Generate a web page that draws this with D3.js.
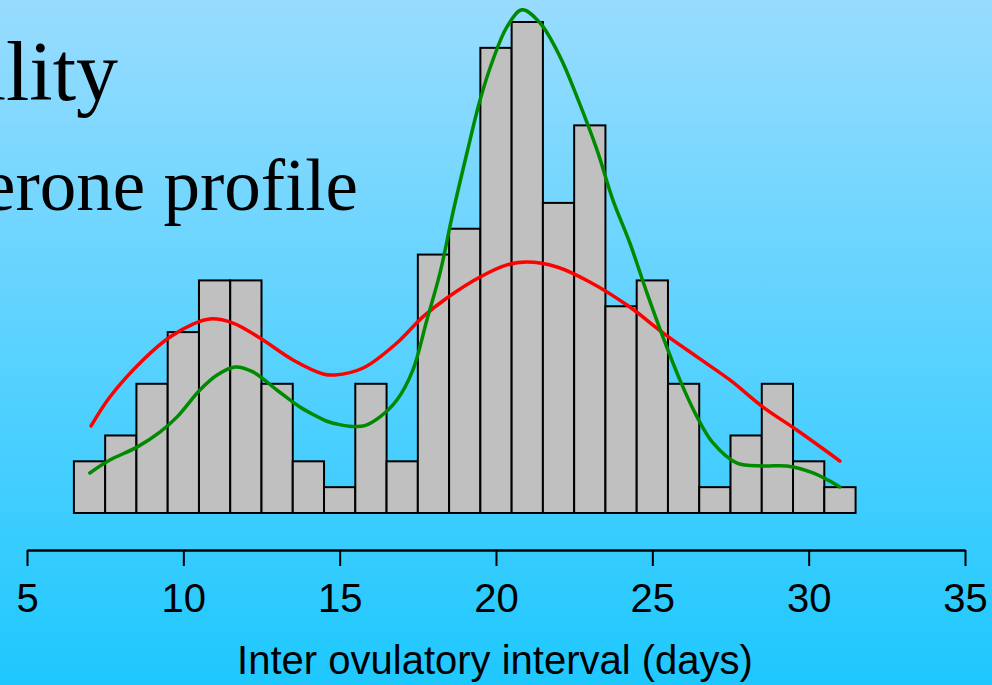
<!DOCTYPE html>
<html>
<head>
<meta charset="utf-8">
<script src="https://cdn.jsdelivr.net/npm/d3@7"></script>
<style>
  html, body { margin: 0; padding: 0; overflow: hidden; }
  svg { display: block; }
</style>
</head>
<body>
<script>
// Histogram of inter-ovulatory intervals (days) with two smoothed density curves
const days   = [7, 8, 9, 10, 11, 12, 13, 14, 15, 16, 17, 18, 19, 20, 21, 22, 23, 24, 25, 26, 27, 28, 29, 30, 31];
const counts = [2, 3, 5, 7, 9, 9, 5, 2, 1, 5, 2, 10, 11, 18, 19, 12, 15, 8, 9, 5, 1, 3, 5, 2, 1];

// Red smoothed curve (x in days, y in count units)
const redX = [7.05, 7.65, 8.71, 9.57, 10.31, 10.85, 11.59, 12.45, 13.51, 14.47, 14.85, 15.75, 16.83, 17.66, 18.43, 19.49, 20.35, 20.99, 21.95, 23.0, 24.28, 25.34, 26.43, 27.48, 28.54, 29.62, 31.0];
const redY = [3.37, 4.49, 5.92, 6.81, 7.31, 7.51, 7.35, 6.77, 5.92, 5.38, 5.34, 5.61, 6.58, 7.59, 8.32, 9.13, 9.6, 9.71, 9.52, 8.94, 7.97, 6.97, 6.04, 5.15, 4.1, 3.21, 2.01];

// Green smoothed curve
const greenX = [7.01, 7.65, 8.52, 9.25, 9.8, 10.53, 11.08, 11.65, 12.23, 12.99, 13.73, 14.2, 14.59, 15.0, 15.4, 15.8, 16.29, 16.83, 17.34, 17.79, 18.21, 18.62, 19.07, 19.49, 19.9, 20.35, 20.83, 21.41, 22.05, 22.59, 23.23, 23.74, 24.28, 24.83, 25.34, 25.88, 26.43, 26.94, 27.71, 28.54, 29.3, 30.14, 31.0];
const greenY = [1.55, 2.05, 2.55, 3.13, 3.72, 4.76, 5.34, 5.65, 5.46, 4.76, 4.1, 3.78, 3.55, 3.42, 3.35, 3.38, 3.72, 4.37, 5.53, 7.47, 9.29, 11.61, 13.93, 15.98, 17.53, 18.81, 19.47, 18.96, 17.65, 16.1, 14.05, 12.11, 10.45, 8.51, 6.81, 5.15, 3.72, 2.71, 1.93, 1.82, 1.82, 1.55, 1.01];

const xTicks = [5, 10, 15, 20, 25, 30, 35];
const titleLines = ["Variability", "Progesterone profile"];
const xTitle = "Inter ovulatory interval (days)";

const W = 992, H = 685;
const svg = d3.select("body").append("svg").attr("width", W).attr("height", H);

// Background gradient
const defs = svg.append("defs");
const grad = defs.append("linearGradient").attr("id", "bg")
  .attr("x1", 0).attr("y1", 0).attr("x2", 0).attr("y2", 1);
grad.append("stop").attr("offset", "0%").attr("stop-color", "#98dcfe");
grad.append("stop").attr("offset", "100%").attr("stop-color", "#1ec8fe");
svg.append("rect").attr("width", W).attr("height", H).attr("fill", "url(#bg)");

// Slide title (runs off the left edge)
svg.append("text")
  .attr("x", 118).attr("y", 100)
  .attr("text-anchor", "end")
  .attr("font-family", "'Liberation Serif', 'Times New Roman', serif")
  .attr("font-size", 84)
  .attr("fill", "#000")
  .text(titleLines[0]);
svg.append("text")
  .attr("x", 358).attr("y", 210)
  .attr("text-anchor", "end")
  .attr("font-family", "'Liberation Serif', 'Times New Roman', serif")
  .attr("font-size", 73)
  .attr("fill", "#000")
  .text(titleLines[1]);

// Scales
const x = d3.scaleLinear().domain([5, 35]).range([27, 965]);
const y = d3.scaleLinear().domain([0, 19]).range([513, 22]);

// Bars
svg.append("g").selectAll("rect")
  .data(days.map((d, i) => ({ d, c: counts[i] })))
  .join("rect")
  .attr("x", v => x(v.d - 0.5))
  .attr("y", v => y(v.c))
  .attr("width", v => x(v.d + 0.5) - x(v.d - 0.5))
  .attr("height", v => y(0) - y(v.c))
  .attr("fill", "#c0c0c0")
  .attr("stroke", "#000")
  .attr("stroke-width", 2);

// Smoothed curves
const line = d3.line().x(p => x(p[0])).y(p => y(p[1])).curve(d3.curveCatmullRom.alpha(0.5));
svg.append("path")
  .attr("d", line(redX.map((v, i) => [v, redY[i]])))
  .attr("fill", "none").attr("stroke", "#ff0000").attr("stroke-width", 3.5)
  .attr("stroke-linecap", "round");
svg.append("path")
  .attr("d", line(greenX.map((v, i) => [v, greenY[i]])))
  .attr("fill", "none").attr("stroke", "#008a00").attr("stroke-width", 3.5)
  .attr("stroke-linecap", "round");

// X axis
const axis = svg.append("g")
  .attr("transform", "translate(0,550)")
  .call(d3.axisBottom(x).tickValues(xTicks).tickSize(16).tickSizeOuter(0).tickPadding(18));
axis.select(".domain").attr("stroke", "#000").attr("stroke-width", 2.5);
axis.selectAll(".tick line").attr("stroke", "#000").attr("stroke-width", 2);
axis.selectAll(".tick text")
  .attr("font-family", "'Liberation Sans', Arial, sans-serif")
  .attr("font-size", 40)
  .attr("fill", "#000");

svg.append("text")
  .attr("x", 495).attr("y", 674)
  .attr("text-anchor", "middle")
  .attr("font-family", "'Liberation Sans', Arial, sans-serif")
  .attr("font-size", 40)
  .attr("fill", "#000")
  .text(xTitle);
</script>
</body>
</html>
